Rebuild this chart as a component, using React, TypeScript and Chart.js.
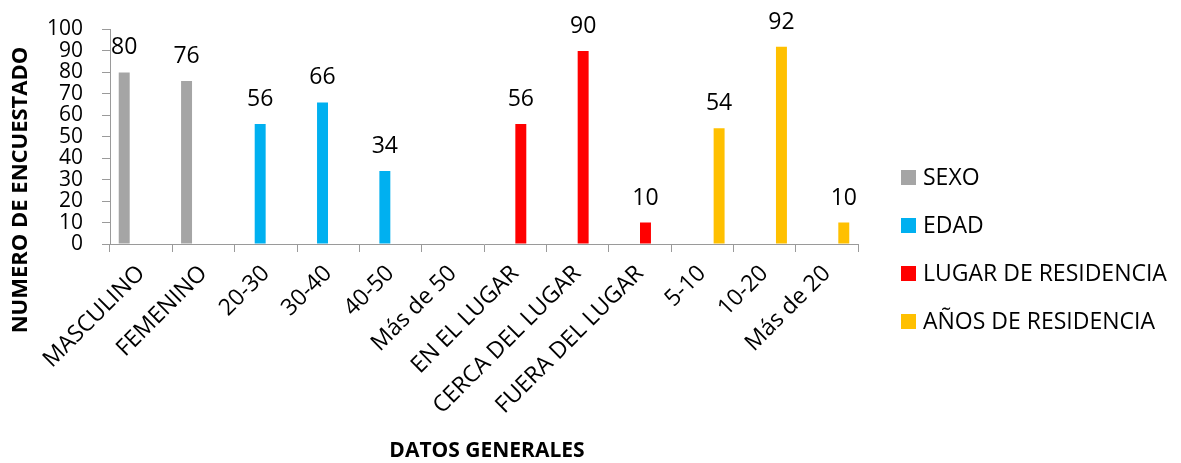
import React, { useEffect, useRef } from "react";
import { Chart, registerables } from "chart.js";

Chart.register(...registerables);

const categories = [
  "MASCULINO",
  "FEMENINO",
  "20-30",
  "30-40",
  "40-50",
  "Más de 50",
  "EN EL LUGAR",
  "CERCA DEL LUGAR",
  "FUERA DEL LUGAR",
  "5-10",
  "10-20",
  "Más de 20",
];

const sexo = [80, 76, null, null, null, null, null, null, null, null, null, null];
const edad = [null, null, 56, 66, 34, null, null, null, null, null, null, null];
const lugar = [null, null, null, null, null, null, 56, 90, 10, null, null, null];
const anos = [null, null, null, null, null, null, null, null, null, 54, 92, 10];

const seriesNames = ["SEXO", "EDAD", "LUGAR DE RESIDENCIA", "AÑOS DE RESIDENCIA"];
const seriesColors = ["#A5A5A5", "#00B0F0", "#FF0000", "#FFC000"];

const yTitle = "NUMERO DE ENCUESTADO";
const xTitle = "DATOS GENERALES";

const FONT = "'Open Sans', 'Noto Sans', sans-serif";
const AXIS_COLOR = "#9A9A9A";

const valueLabels = {
  id: "valueLabels",
  afterDatasetsDraw(chart: any) {
    const ctx = chart.ctx;
    ctx.save();
    ctx.font = `23px ${FONT}`;
    ctx.fillStyle = "#000";
    ctx.textAlign = "center";
    ctx.textBaseline = "alphabetic";
    chart.data.datasets.forEach((ds: any, i: number) => {
      const meta = chart.getDatasetMeta(i);
      meta.data.forEach((el: any, j: number) => {
        const v = ds.data[j];
        if (v === null || v === undefined) return;
        ctx.fillText(String(v), el.x, el.y - 18);
      });
    });
    ctx.restore();
  },
};

const titlesAndLegend = {
  id: "titlesAndLegend",
  afterDraw(chart: any) {
    const ctx = chart.ctx;
    const area = chart.chartArea;
    ctx.save();
    // Y axis title
    ctx.font = `bold 22px ${FONT}`;
    ctx.fillStyle = "#000";
    ctx.textAlign = "center";
    ctx.textBaseline = "middle";
    ctx.translate(21, 190);
    ctx.rotate(-Math.PI / 2);
    ctx.fillText(yTitle, 0, 0);
    ctx.restore();

    ctx.save();
    // X axis title
    ctx.font = `bold 21px ${FONT}`;
    ctx.fillStyle = "#000";
    ctx.textAlign = "center";
    ctx.textBaseline = "alphabetic";
    ctx.fillText(xTitle, (area.left + area.right) / 2 + 3, 457);

    // Legend
    ctx.font = `23px ${FONT}`;
    ctx.textAlign = "left";
    ctx.textBaseline = "middle";
    const lx = 901;
    const ly0 = 177.5;
    const step = 48;
    seriesNames.forEach((name, i) => {
      const cy = ly0 + i * step;
      ctx.fillStyle = seriesColors[i];
      ctx.fillRect(lx, cy - 7.5, 15, 15);
      ctx.fillStyle = "#000";
      ctx.fillText(name, lx + 22, cy + 1);
    });
    ctx.restore();
  },
};

export default function App() {
  const canvasRef = useRef<HTMLCanvasElement | null>(null);

  useEffect(() => {
    if (!canvasRef.current) return;
    const seriesData = [sexo, edad, lugar, anos];
    const chart = new Chart(canvasRef.current, {
      type: "bar",
      data: {
        labels: categories,
        datasets: seriesNames.map((name, i) => ({
          label: name,
          data: seriesData[i],
          backgroundColor: seriesColors[i],
          borderWidth: 0,
          categoryPercentage: 0.725,
          barPercentage: 0.97,
        })),
      },
      options: {
        responsive: false,
        animation: false,
        devicePixelRatio: 1,
        layout: {
          padding: { left: 40, top: 29, right: 323, bottom: 0 },
        },
        plugins: {
          legend: { display: false },
          tooltip: { enabled: false },
          title: { display: false },
        },
        scales: {
          x: {
            afterFit(scale: any) {
              scale.height = 219;
              scale.paddingLeft = 0;
              scale.paddingRight = 0;
            },
            grid: {
              display: true,
              offset: true,
              drawOnChartArea: false,
              drawTicks: true,
              tickLength: 8,
              color: AXIS_COLOR,
            },
            border: { display: true, color: AXIS_COLOR, width: 1 },
            ticks: {
              autoSkip: false,
              minRotation: 45,
              maxRotation: 45,
              color: "#000",
              padding: 8,
              font: { family: FONT, size: 23 },
            },
          },
          y: {
            min: 0,
            max: 100,
            afterFit(scale: any) {
              scale.width = 70;
            },
            grid: {
              display: true,
              drawOnChartArea: false,
              drawTicks: true,
              tickLength: 8,
              color: AXIS_COLOR,
            },
            border: { display: true, color: AXIS_COLOR, width: 1 },
            ticks: {
              stepSize: 10,
              autoSkip: false,
              color: "#000",
              padding: 19,
              font: { family: FONT, size: 21, lineHeight: 1 },
            },
          },
        },
      },
      plugins: [valueLabels, titlesAndLegend],
    });
    return () => chart.destroy();
  }, []);

  return (
    <div style={{ position: "absolute", left: 0, top: 0, width: 1181, height: 463, background: "#fff" }}>
      <canvas ref={canvasRef} width={1181} height={463} />
    </div>
  );
}
